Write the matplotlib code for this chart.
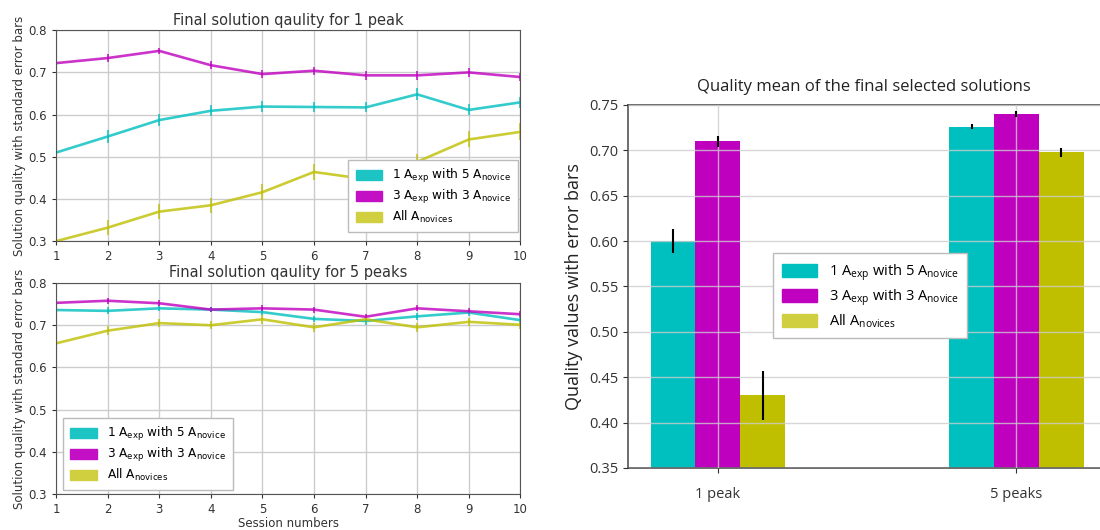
import matplotlib
matplotlib.use("Agg")
import matplotlib.pyplot as plt
from matplotlib.patches import Patch
import numpy as np

plt.rcParams['mathtext.default'] = 'regular'

sessions = np.arange(1, 11)

# 1 peak
p1_cyan = [0.510, 0.548, 0.587, 0.609, 0.619, 0.618, 0.617, 0.648, 0.611, 0.629]
p1_mag = [0.722, 0.734, 0.751, 0.717, 0.696, 0.704, 0.693, 0.693, 0.700, 0.689]
p1_yel = [0.300, 0.332, 0.370, 0.385, 0.416, 0.464, 0.447, 0.488, 0.541, 0.559]
p1_cyan_err = [0.010, 0.016, 0.014, 0.013, 0.014, 0.013, 0.012, 0.014, 0.013, 0.013]
p1_mag_err = [0.006, 0.009, 0.007, 0.009, 0.009, 0.009, 0.010, 0.010, 0.010, 0.009]
p1_yel_err = [0.008, 0.018, 0.018, 0.018, 0.019, 0.020, 0.018, 0.019, 0.019, 0.020]

# 5 peaks
p5_cyan = [0.736, 0.734, 0.740, 0.737, 0.731, 0.715, 0.710, 0.721, 0.730, 0.712]
p5_mag = [0.753, 0.758, 0.752, 0.737, 0.740, 0.737, 0.720, 0.740, 0.733, 0.726]
p5_yel = [0.657, 0.687, 0.705, 0.700, 0.714, 0.695, 0.714, 0.695, 0.708, 0.701]
p5_cyan_err = [0.006, 0.008, 0.007, 0.006, 0.007, 0.008, 0.009, 0.009, 0.007, 0.008]
p5_mag_err = [0.005, 0.007, 0.007, 0.006, 0.007, 0.007, 0.007, 0.007, 0.007, 0.007]
p5_yel_err = [0.003, 0.010, 0.009, 0.009, 0.010, 0.011, 0.009, 0.010, 0.009, 0.009]

# bar chart
groups = ['1 peak', '5 peaks']
bar_cyan = [0.600, 0.726]
bar_mag = [0.710, 0.740]
bar_yel = [0.430, 0.698]
bar_cyan_err = [0.013, 0.003]
bar_mag_err = [0.006, 0.003]
bar_yel_err = [0.027, 0.005]

labels = [r'1 A$_{exp}$ with 5 A$_{novice}$',
          r'3 A$_{exp}$ with 3 A$_{novice}$',
          r'All A$_{novices}$']
cols = ['#00bfbf', '#bf00bf', '#bfbf00']
leg_cols = ['#1cc4c4', '#c410c4', '#cfcf40']

fig = plt.figure(figsize=(11, 5.3), dpi=100)


def line_panel(ax, series, errs, title, legloc, bbox):
    for y, e, c in zip(series, errs, cols):
        ax.errorbar(sessions, y, yerr=e, color=c, alpha=0.8, lw=1.9,
                    elinewidth=1.3, capsize=0)
    ax.set_xlim(1, 10)
    ax.set_ylim(0.3, 0.8)
    ax.set_xticks(sessions)
    ax.set_yticks([0.3, 0.4, 0.5, 0.6, 0.7, 0.8])
    ax.set_yticklabels(['0.3', '0.4', '0.5', '0.6', '0.7', '0.8'])
    ax.grid(True, color='#cccccc', lw=1)
    ax.tick_params(labelsize=8.5, colors='#333333', length=3)
    for s in ax.spines.values():
        s.set_color('#555555')
    ax.set_title(title, fontsize=10.5, color='#333333', pad=4)
    ax.set_ylabel('Solution quality with standard error bars', fontsize=8.5,
                  color='#333333', labelpad=2)
    handles = [Patch(color=c) for c in leg_cols]
    ax.legend(handles, labels, loc=legloc, bbox_to_anchor=bbox, fontsize=8.7,
              fancybox=False, edgecolor='#bbbbbb', framealpha=1,
              handlelength=2.2, handleheight=0.9, borderpad=0.6,
              labelspacing=0.25, borderaxespad=0.2)


ax1 = fig.add_axes([0.051, 0.545, 0.422, 0.398])
line_panel(ax1, [p1_cyan, p1_mag, p1_yel], [p1_cyan_err, p1_mag_err, p1_yel_err],
           'Final solution qaulity for 1 peak', 'lower right', (1.0, 0.03))

ax2 = fig.add_axes([0.051, 0.068, 0.422, 0.398])
line_panel(ax2, [p5_cyan, p5_mag, p5_yel], [p5_cyan_err, p5_mag_err, p5_yel_err],
           'Final solution qaulity for 5 peaks', 'lower left', (0.01, 0.005))
ax2.set_xlabel('Session numbers', fontsize=8.5, color='#333333', labelpad=1)

# right bar chart
ax3 = fig.add_axes([0.571, 0.117, 0.429, 0.685])
x = np.arange(len(groups))
w = 0.15
for i, (v, e, c) in enumerate(zip([bar_cyan, bar_mag, bar_yel],
                                   [bar_cyan_err, bar_mag_err, bar_yel_err], cols)):
    ax3.bar(x + (i - 1) * w, v, w, yerr=e, color=c, ecolor='black',
            error_kw=dict(elinewidth=1.5, capsize=0, zorder=4), zorder=1)
ax3.set_ylim(0.35, 0.75)
ax3.set_xlim(-0.3, 1.28)
ax3.set_xticks(x)
ax3.set_xticklabels(groups, fontsize=10.5, family='Open Sans')
ax3.set_yticks(np.arange(0.35, 0.751, 0.05))
ax3.set_yticklabels(['%.2f' % t for t in np.arange(0.35, 0.751, 0.05)],
                    fontsize=10.5, family='Open Sans')
ax3.tick_params(axis='x', pad=10, colors='#333333')
ax3.tick_params(axis='y', colors='#333333')
ax3.grid(True, color='#cccccc', lw=1, alpha=0.8, zorder=3)
ax3.set_axisbelow(False)
ax3.spines['right'].set_visible(False)
for s in ['left', 'top', 'bottom']:
    ax3.spines[s].set_color('#555555')
    ax3.spines[s].set_linewidth(1.2)
ax3.set_ylabel('Quality values with error bars', fontsize=13, family='Open Sans',
               color='#222222')
ax3.set_title('Quality mean of the final selected solutions', fontsize=12,
              family='Open Sans', color='#222222', pad=10)
handles = [Patch(color=c) for c in cols[:2]] + [Patch(color=leg_cols[2])]
leg = ax3.legend(handles, labels, loc='center', bbox_to_anchor=(0.513, 0.474),
                 fancybox=False, edgecolor='#bbbbbb', framealpha=1,
                 handlelength=2.4, handleheight=1.0, borderpad=0.6,
                 labelspacing=0.3, prop={'family': 'Open Sans', 'size': 10.5})
leg.set_zorder(5)

fig.savefig('out.png', dpi=100)
